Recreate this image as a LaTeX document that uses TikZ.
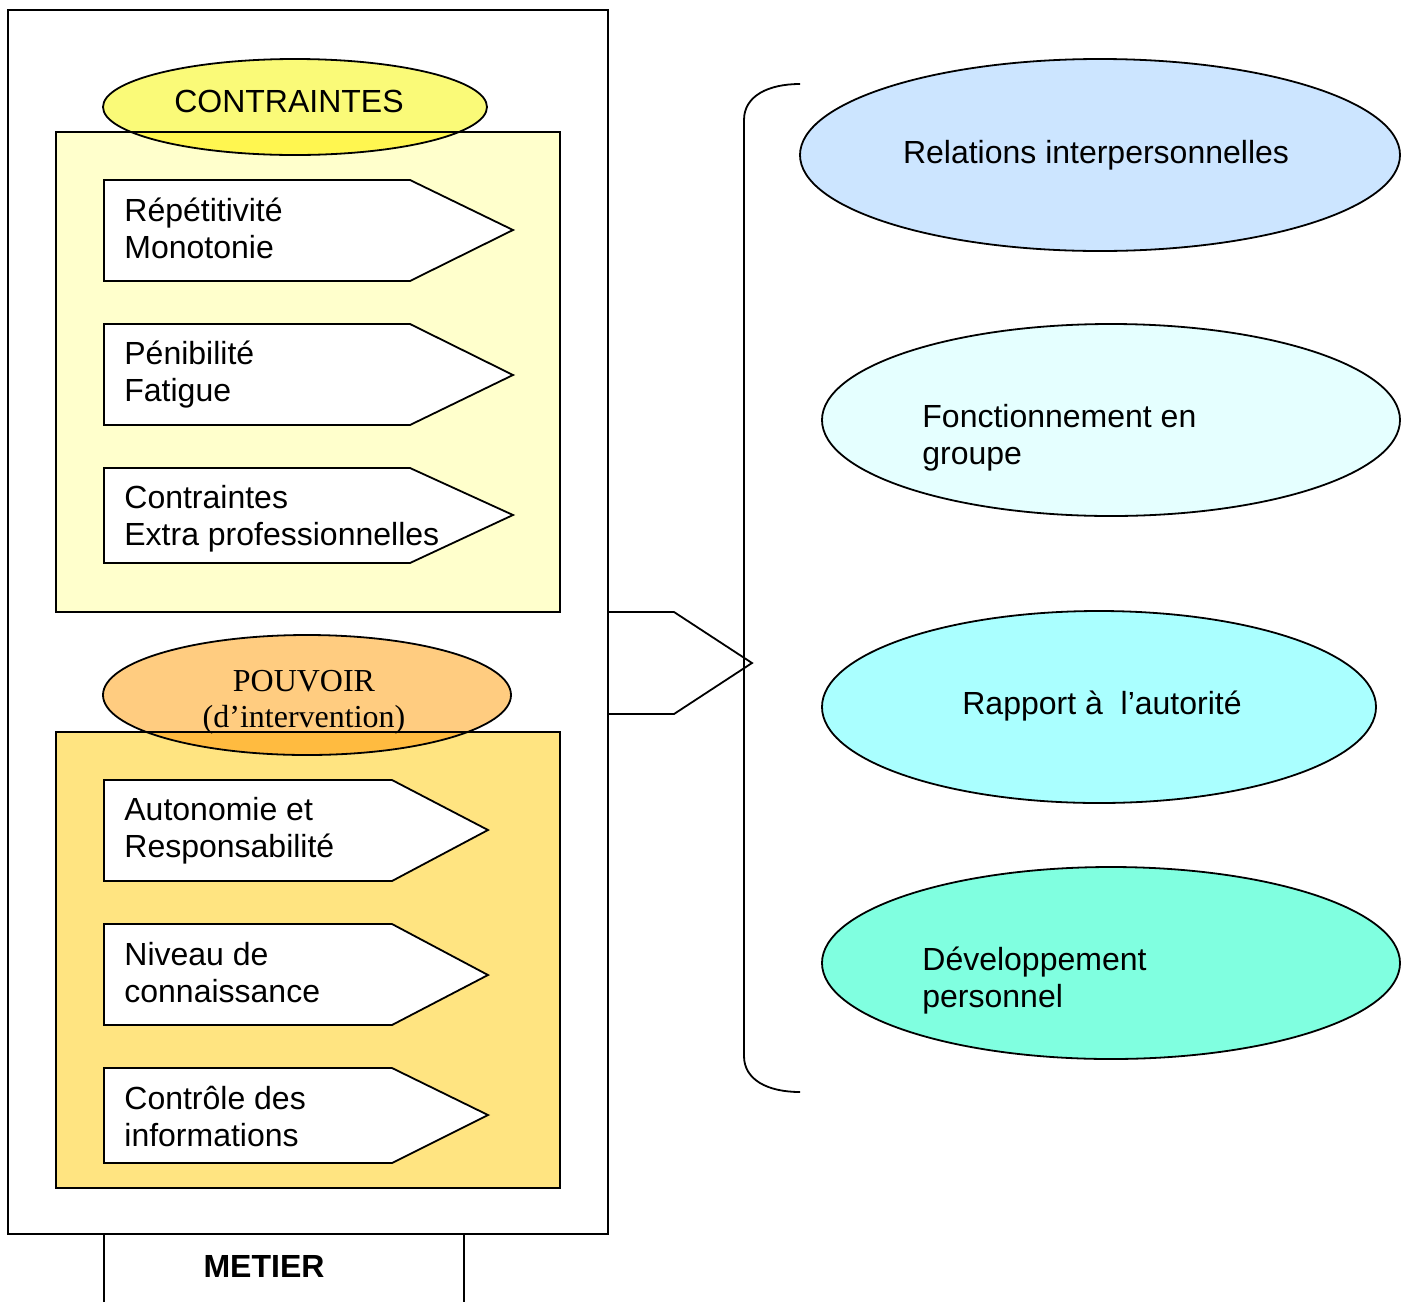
\documentclass[tikz,border=0pt]{standalone}
\usepackage{fontspec}
\setmainfont{Liberation Sans}
\newfontfamily\timesf{Liberation Serif}
\definecolor{boxA}{HTML}{FFFFCC}
\definecolor{ellA}{HTML}{FAFA78}
\definecolor{ovA}{HTML}{FFF650}
\definecolor{boxB}{HTML}{FFE481}
\definecolor{ellB}{HTML}{FFCC80}
\definecolor{ovB}{HTML}{FFBB40}
\definecolor{relc}{HTML}{CCE5FF}
\definecolor{fonc}{HTML}{E5FFFF}
\definecolor{rapc}{HTML}{AAFFFF}
\definecolor{devc}{HTML}{80FFE0}
\begin{document}
\begin{tikzpicture}[x=0.5pt,y=-0.5pt,
  ln/.style={draw=black,line width=0.9pt},
  txt/.style={inner sep=0pt,font=\fontsize{16}{18.5}\selectfont,align=left},
  ltxt/.style={txt,anchor=west},
  ctxt/.style={txt,align=center},
  pent/.style={ln,fill=white,line join=miter}]
\useasboundingbox (0,0) rectangle (1408,1302);
% outer frame
\draw[ln] (8,10) rectangle (608,1234);
\draw[ln] (104,1302) -- (104,1234) (464,1234) -- (464,1302);
\node[txt,font=\fontsize{16}{18.5}\selectfont\bfseries] (metier) at (264,1266) {METIER};
% upper box and ellipse
\fill[boxA] (56,132) rectangle (560,612);
\fill[ellA] (295,107) ellipse [x radius=192,y radius=48];
\begin{scope}
  \clip (56,132) rectangle (560,612);
  \fill[ovA] (295,107) ellipse [x radius=192,y radius=48];
\end{scope}
\draw[ln] (56,132) rectangle (560,612);
\draw[ln] (295,107) ellipse [x radius=192,y radius=48];
\node[ctxt] (contr) at (289,101) {CONTRAINTES};
% upper arrows
\draw[pent] (104,180) -- (410,180) -- (513,230) -- (410,281) -- (104,281) -- cycle;
\draw[pent] (104,324) -- (410,324) -- (513,375) -- (410,425) -- (104,425) -- cycle;
\draw[pent] (104,468) -- (410,468) -- (513,515) -- (410,563) -- (104,563) -- cycle;
\node[ltxt] (t1) at (124,228) {Répétitivité\\Monotonie};
\node[ltxt] (t2) at (124,375) {Pénibilité\\Fatigue};
\node[ltxt] (t3) at (124,519) {Contraintes\\Extra professionnelles};
% lower box and ellipse
\fill[boxB] (56,732) rectangle (560,1188);
\fill[ellB] (307,695) ellipse [x radius=204,y radius=60];
\begin{scope}
  \clip (56,732) rectangle (560,1188);
  \fill[ovB] (307,695) ellipse [x radius=204,y radius=60];
\end{scope}
\draw[ln] (56,732) rectangle (560,1188);
\draw[ln] (307,695) ellipse [x radius=204,y radius=60];
\node[ctxt,font=\fontsize{16}{18}\selectfont\timesf] (pouv) at (304,702) {POUVOIR\\(d’intervention)};
% lower arrows
\draw[pent] (104,780) -- (392,780) -- (488,830) -- (392,881) -- (104,881) -- cycle;
\draw[pent] (104,924) -- (392,924) -- (488,975) -- (392,1025) -- (104,1025) -- cycle;
\draw[pent] (104,1068) -- (392,1068) -- (488,1115) -- (392,1163) -- (104,1163) -- cycle;
\node[ltxt] (t4) at (124,831) {Autonomie et\\Responsabilité};
\node[ltxt] (t5) at (124,973) {Niveau de\\connaissance};
\node[ltxt] (t6) at (124,1116) {Contrôle des\\informations};
% big arrow
\draw[ln,line join=miter] (608,612) -- (674,612) -- (752,663) -- (674,714) -- (608,714);
% brace
\draw[ln] (800,84) .. controls (768,84) and (744,96) .. (744,120) -- (744,1056) .. controls (744,1080) and (768,1092) .. (800,1092);
% right ellipses
\draw[ln,fill=relc] (1100,155) ellipse [x radius=300,y radius=96];
\draw[ln,fill=fonc] (1111,420) ellipse [x radius=289,y radius=96];
\draw[ln,fill=rapc] (1099,707) ellipse [x radius=277,y radius=96];
\draw[ln,fill=devc] (1111,963) ellipse [x radius=289,y radius=96];
\node[ctxt] (rel) at (1096,155) {Relations interpersonnelles};
\node[ltxt] (fon) at (922,438) {Fonctionnement en\\groupe};
\node[ctxt] (rap) at (1102,706) {Rapport à\ \ l’autorité};
\node[ltxt] (dev) at (922,981) {Développement\\personnel};
\end{tikzpicture}
\end{document}
